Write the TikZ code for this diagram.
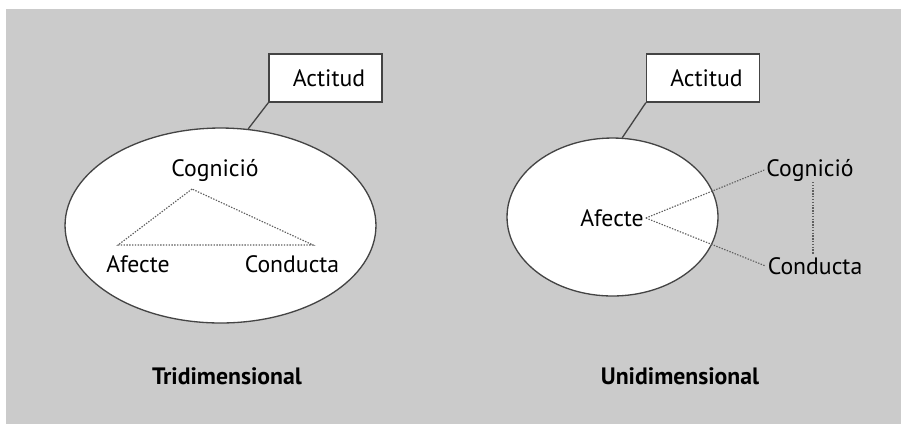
\documentclass[tikz,border=0pt]{standalone}
\usepackage{fontspec}
\setmainfont{PT Sans}
\usepackage{tikz}
\usetikzlibrary{shapes,positioning}

\definecolor{fondo}{HTML}{CBCBCB}
\definecolor{linia}{HTML}{444444}

\tikzset{
    terme/.style={font=\fontsize{13.5}{15}\selectfont},
    titol/.style={font=\fontsize{13.5}{15}\selectfont\bfseries},
    caixa/.style={terme, draw=linia, fill=white, line width=0.75pt, minimum width=2.26cm, minimum height=0.96cm, inner sep=0pt},
    oval/.style={draw=linia, fill=white, ellipse, line width=0.75pt, inner sep=0pt},
    punts/.style={draw=linia!85, line width=0.65pt, dash pattern=on 0.8pt off 0.8pt}
}

\begin{document}
\begin{tikzpicture}[x=0.02cm, y=-0.02cm] % pixel units of the original figure
        % Background
        \useasboundingbox (0,0) rectangle (901,424);
        \fill[fondo] (6,9) rectangle (901,424);

        % Tridimensional model
        \node[oval, minimum width=6.22cm, minimum height=3.9cm] (ellT) at (220.5,225.5) {};
        \node[caixa] (actT) at (325.5,78) {\hspace{0.14cm}Actitud};
        \draw[linia, line width=0.75pt] (actT.south west) -- (ellT.74);

        \node[terme] (cogT) at (215,170) {Cognició};
        \node[terme] (afeT) at (138,264) {Afecte};
        \node[terme] (conT) at (292,264) {Conducta};

        % Dotted triangle
        \coordinate (dalt) at (192,189);
        \coordinate (esq) at (118,245);
        \coordinate (dre) at (313,245);
        \draw[punts] (dalt) -- (esq) -- (dre) -- cycle;

        \node[titol] (tri) at (227,376) {Tridimensional};

        % Unidimensional model
        \node[oval, minimum width=4.22cm, minimum height=3.16cm] (ellU) at (612.5,217) {};
        \node[caixa] (actU) at (703,78) {\hspace{0.14cm}Actitud};
        \draw[linia, line width=0.75pt] (actU.south west) -- (ellU.83);

        \node[terme, inner sep=1pt] (afeU) at (612,218) {Afecte};
        \node[terme, inner sep=1pt] (cogU) at (810,170) {Cognició};
        \node[terme, inner sep=1pt] (conU) at (815,266) {Conducta};

        \draw[punts] (afeU.east) -- (cogU.west);
        \draw[punts] (afeU.east) -- (conU.west);
        \coordinate (cogBaix) at (813,182);
        \coordinate (conDalt) at (813,255);
        \draw[punts] (cogBaix) -- (conDalt);

        \node[titol] (uni) at (680,376) {Unidimensional};
    \end{tikzpicture}
\end{document}
